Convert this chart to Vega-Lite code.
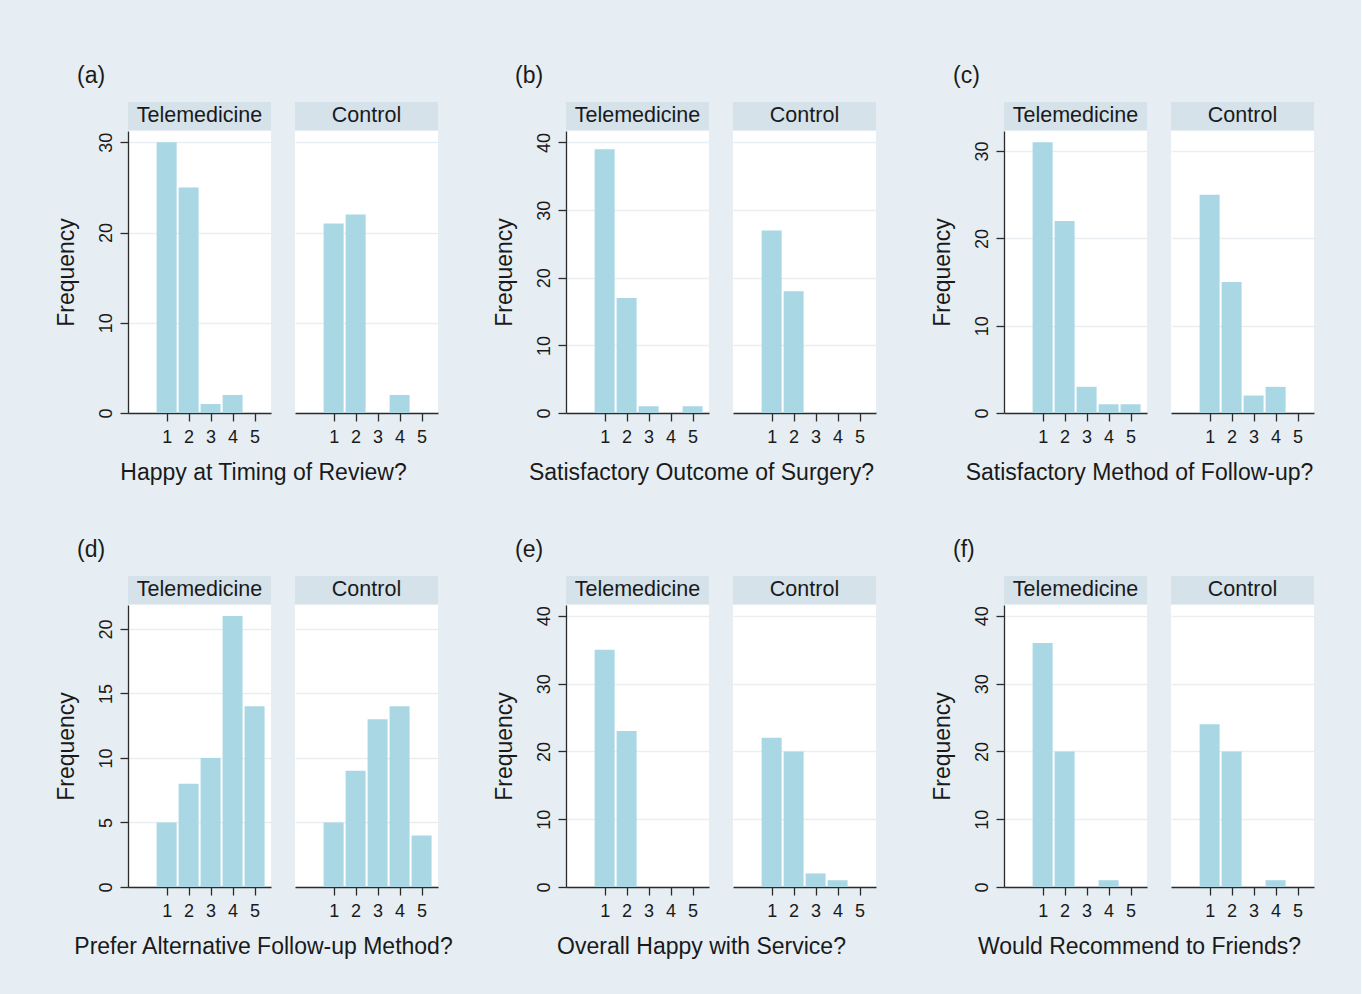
{
  "$schema": "https://vega.github.io/schema/vega-lite/v6.json",
  "padding": {"left": 55, "top": 65, "right": 47, "bottom": 36},
  "datasets": {
    "counts": [
      {"panel": "a", "group": "Telemedicine", "rating": 1, "frequency": 30},
      {"panel": "a", "group": "Telemedicine", "rating": 2, "frequency": 25},
      {"panel": "a", "group": "Telemedicine", "rating": 3, "frequency": 1},
      {"panel": "a", "group": "Telemedicine", "rating": 4, "frequency": 2},
      {"panel": "a", "group": "Telemedicine", "rating": 5, "frequency": 0},
      {"panel": "a", "group": "Control", "rating": 1, "frequency": 21},
      {"panel": "a", "group": "Control", "rating": 2, "frequency": 22},
      {"panel": "a", "group": "Control", "rating": 3, "frequency": 0},
      {"panel": "a", "group": "Control", "rating": 4, "frequency": 2},
      {"panel": "a", "group": "Control", "rating": 5, "frequency": 0},
      {"panel": "b", "group": "Telemedicine", "rating": 1, "frequency": 39},
      {"panel": "b", "group": "Telemedicine", "rating": 2, "frequency": 17},
      {"panel": "b", "group": "Telemedicine", "rating": 3, "frequency": 1},
      {"panel": "b", "group": "Telemedicine", "rating": 4, "frequency": 0},
      {"panel": "b", "group": "Telemedicine", "rating": 5, "frequency": 1},
      {"panel": "b", "group": "Control", "rating": 1, "frequency": 27},
      {"panel": "b", "group": "Control", "rating": 2, "frequency": 18},
      {"panel": "b", "group": "Control", "rating": 3, "frequency": 0},
      {"panel": "b", "group": "Control", "rating": 4, "frequency": 0},
      {"panel": "b", "group": "Control", "rating": 5, "frequency": 0},
      {"panel": "c", "group": "Telemedicine", "rating": 1, "frequency": 31},
      {"panel": "c", "group": "Telemedicine", "rating": 2, "frequency": 22},
      {"panel": "c", "group": "Telemedicine", "rating": 3, "frequency": 3},
      {"panel": "c", "group": "Telemedicine", "rating": 4, "frequency": 1},
      {"panel": "c", "group": "Telemedicine", "rating": 5, "frequency": 1},
      {"panel": "c", "group": "Control", "rating": 1, "frequency": 25},
      {"panel": "c", "group": "Control", "rating": 2, "frequency": 15},
      {"panel": "c", "group": "Control", "rating": 3, "frequency": 2},
      {"panel": "c", "group": "Control", "rating": 4, "frequency": 3},
      {"panel": "c", "group": "Control", "rating": 5, "frequency": 0},
      {"panel": "d", "group": "Telemedicine", "rating": 1, "frequency": 5},
      {"panel": "d", "group": "Telemedicine", "rating": 2, "frequency": 8},
      {"panel": "d", "group": "Telemedicine", "rating": 3, "frequency": 10},
      {"panel": "d", "group": "Telemedicine", "rating": 4, "frequency": 21},
      {"panel": "d", "group": "Telemedicine", "rating": 5, "frequency": 14},
      {"panel": "d", "group": "Control", "rating": 1, "frequency": 5},
      {"panel": "d", "group": "Control", "rating": 2, "frequency": 9},
      {"panel": "d", "group": "Control", "rating": 3, "frequency": 13},
      {"panel": "d", "group": "Control", "rating": 4, "frequency": 14},
      {"panel": "d", "group": "Control", "rating": 5, "frequency": 4},
      {"panel": "e", "group": "Telemedicine", "rating": 1, "frequency": 35},
      {"panel": "e", "group": "Telemedicine", "rating": 2, "frequency": 23},
      {"panel": "e", "group": "Telemedicine", "rating": 3, "frequency": 0},
      {"panel": "e", "group": "Telemedicine", "rating": 4, "frequency": 0},
      {"panel": "e", "group": "Telemedicine", "rating": 5, "frequency": 0},
      {"panel": "e", "group": "Control", "rating": 1, "frequency": 22},
      {"panel": "e", "group": "Control", "rating": 2, "frequency": 20},
      {"panel": "e", "group": "Control", "rating": 3, "frequency": 2},
      {"panel": "e", "group": "Control", "rating": 4, "frequency": 1},
      {"panel": "e", "group": "Control", "rating": 5, "frequency": 0},
      {"panel": "f", "group": "Telemedicine", "rating": 1, "frequency": 36},
      {"panel": "f", "group": "Telemedicine", "rating": 2, "frequency": 20},
      {"panel": "f", "group": "Telemedicine", "rating": 3, "frequency": 0},
      {"panel": "f", "group": "Telemedicine", "rating": 4, "frequency": 1},
      {"panel": "f", "group": "Telemedicine", "rating": 5, "frequency": 0},
      {"panel": "f", "group": "Control", "rating": 1, "frequency": 24},
      {"panel": "f", "group": "Control", "rating": 2, "frequency": 20},
      {"panel": "f", "group": "Control", "rating": 3, "frequency": 0},
      {"panel": "f", "group": "Control", "rating": 4, "frequency": 1},
      {"panel": "f", "group": "Control", "rating": 5, "frequency": 0}
    ]
  },
  "columns": 3,
  "align": "all",
  "spacing": {"column": 39, "row": 54},
  "concat": [
    {
      "title": {"text": "(a)", "anchor": "start", "dx": 22, "offset": 14},
      "vconcat": [{
        "title": {"text": "Happy at Timing of Review?", "orient": "bottom", "anchor": "middle", "dx": 17, "offset": 16},
        "spacing": 24,
        "hconcat": [
          {"spacing": 1, "vconcat": [
            {"width": 143, "height": 28, "view": {"fill": "#d6e2ea", "stroke": null}, "data": {"values": [{"label": "Telemedicine"}]}, "mark": {"type": "text", "fontSize": 21.5, "color": "#1a1a1a"}, "encoding": {"text": {"field": "label", "type": "nominal"}}},
            {"width": 143, "height": 282, "view": {"fill": "white", "stroke": null}, "data": {"name": "counts"},
             "transform": [{"filter": "datum.panel === 'a' && datum.group === 'Telemedicine'"}],
             "mark": {"type": "bar", "size": 20, "color": "#a9d7e4"},
             "encoding": {
               "x": {"field": "rating", "type": "quantitative", "scale": {"domain": [-0.53, 5.52], "nice": false, "zero": false}, "axis": {"values": [1, 2, 3, 4, 5], "title": null, "grid": false, "tickSize": 8, "labelPadding": 7, "labelFlush": false, "labelOverlap": false, "format": "d"}},
               "y": {"field": "frequency", "type": "quantitative", "scale": {"domain": [0, 31.25], "nice": false}, "axis": {"values": [0, 10, 20, 30], "title": "Frequency", "tickSize": 8, "labelAngle": -90, "labelAlign": "center", "labelBaseline": "bottom", "labelPadding": 5, "minExtent": 31, "maxExtent": 31, "titlePadding": 19, "format": "d", "labelOverlap": false}}
             }}
          ]},
          {"spacing": 1, "vconcat": [
            {"width": 143, "height": 28, "view": {"fill": "#d6e2ea", "stroke": null}, "data": {"values": [{"label": "Control"}]}, "mark": {"type": "text", "fontSize": 21.5, "color": "#1a1a1a"}, "encoding": {"text": {"field": "label", "type": "nominal"}}},
            {"width": 143, "height": 282, "view": {"fill": "white", "stroke": null}, "data": {"name": "counts"},
             "transform": [{"filter": "datum.panel === 'a' && datum.group === 'Control'"}],
             "mark": {"type": "bar", "size": 20, "color": "#a9d7e4"},
             "encoding": {
               "x": {"field": "rating", "type": "quantitative", "scale": {"domain": [-0.53, 5.52], "nice": false, "zero": false}, "axis": {"values": [1, 2, 3, 4, 5], "title": null, "grid": false, "tickSize": 8, "labelPadding": 7, "labelFlush": false, "labelOverlap": false, "format": "d"}},
               "y": {"field": "frequency", "type": "quantitative", "scale": {"domain": [0, 31.25], "nice": false}, "axis": {"values": [0, 10, 20, 30], "title": null, "labels": false, "ticks": false, "domain": false}}
             }}
          ]}
        ]
      }]
    },
    {
      "title": {"text": "(b)", "anchor": "start", "dx": 22, "offset": 14},
      "vconcat": [{
        "title": {"text": "Satisfactory Outcome of Surgery?", "orient": "bottom", "anchor": "middle", "dx": 17, "offset": 16},
        "spacing": 24,
        "hconcat": [
          {"spacing": 1, "vconcat": [
            {"width": 143, "height": 28, "view": {"fill": "#d6e2ea", "stroke": null}, "data": {"values": [{"label": "Telemedicine"}]}, "mark": {"type": "text", "fontSize": 21.5, "color": "#1a1a1a"}, "encoding": {"text": {"field": "label", "type": "nominal"}}},
            {"width": 143, "height": 282, "view": {"fill": "white", "stroke": null}, "data": {"name": "counts"},
             "transform": [{"filter": "datum.panel === 'b' && datum.group === 'Telemedicine'"}],
             "mark": {"type": "bar", "size": 20, "color": "#a9d7e4"},
             "encoding": {
               "x": {"field": "rating", "type": "quantitative", "scale": {"domain": [-0.53, 5.52], "nice": false, "zero": false}, "axis": {"values": [1, 2, 3, 4, 5], "title": null, "grid": false, "tickSize": 8, "labelPadding": 7, "labelFlush": false, "labelOverlap": false, "format": "d"}},
               "y": {"field": "frequency", "type": "quantitative", "scale": {"domain": [0, 41.7], "nice": false}, "axis": {"values": [0, 10, 20, 30, 40], "title": "Frequency", "tickSize": 8, "labelAngle": -90, "labelAlign": "center", "labelBaseline": "bottom", "labelPadding": 5, "minExtent": 31, "maxExtent": 31, "titlePadding": 19, "format": "d", "labelOverlap": false}}
             }}
          ]},
          {"spacing": 1, "vconcat": [
            {"width": 143, "height": 28, "view": {"fill": "#d6e2ea", "stroke": null}, "data": {"values": [{"label": "Control"}]}, "mark": {"type": "text", "fontSize": 21.5, "color": "#1a1a1a"}, "encoding": {"text": {"field": "label", "type": "nominal"}}},
            {"width": 143, "height": 282, "view": {"fill": "white", "stroke": null}, "data": {"name": "counts"},
             "transform": [{"filter": "datum.panel === 'b' && datum.group === 'Control'"}],
             "mark": {"type": "bar", "size": 20, "color": "#a9d7e4"},
             "encoding": {
               "x": {"field": "rating", "type": "quantitative", "scale": {"domain": [-0.53, 5.52], "nice": false, "zero": false}, "axis": {"values": [1, 2, 3, 4, 5], "title": null, "grid": false, "tickSize": 8, "labelPadding": 7, "labelFlush": false, "labelOverlap": false, "format": "d"}},
               "y": {"field": "frequency", "type": "quantitative", "scale": {"domain": [0, 41.7], "nice": false}, "axis": {"values": [0, 10, 20, 30, 40], "title": null, "labels": false, "ticks": false, "domain": false}}
             }}
          ]}
        ]
      }]
    },
    {
      "title": {"text": "(c)", "anchor": "start", "dx": 22, "offset": 14},
      "vconcat": [{
        "title": {"text": "Satisfactory Method of Follow-up?", "orient": "bottom", "anchor": "middle", "dx": 17, "offset": 16},
        "spacing": 24,
        "hconcat": [
          {"spacing": 1, "vconcat": [
            {"width": 143, "height": 28, "view": {"fill": "#d6e2ea", "stroke": null}, "data": {"values": [{"label": "Telemedicine"}]}, "mark": {"type": "text", "fontSize": 21.5, "color": "#1a1a1a"}, "encoding": {"text": {"field": "label", "type": "nominal"}}},
            {"width": 143, "height": 282, "view": {"fill": "white", "stroke": null}, "data": {"name": "counts"},
             "transform": [{"filter": "datum.panel === 'c' && datum.group === 'Telemedicine'"}],
             "mark": {"type": "bar", "size": 20, "color": "#a9d7e4"},
             "encoding": {
               "x": {"field": "rating", "type": "quantitative", "scale": {"domain": [-0.53, 5.52], "nice": false, "zero": false}, "axis": {"values": [1, 2, 3, 4, 5], "title": null, "grid": false, "tickSize": 8, "labelPadding": 7, "labelFlush": false, "labelOverlap": false, "format": "d"}},
               "y": {"field": "frequency", "type": "quantitative", "scale": {"domain": [0, 32.3], "nice": false}, "axis": {"values": [0, 10, 20, 30], "title": "Frequency", "tickSize": 8, "labelAngle": -90, "labelAlign": "center", "labelBaseline": "bottom", "labelPadding": 5, "minExtent": 31, "maxExtent": 31, "titlePadding": 19, "format": "d", "labelOverlap": false}}
             }}
          ]},
          {"spacing": 1, "vconcat": [
            {"width": 143, "height": 28, "view": {"fill": "#d6e2ea", "stroke": null}, "data": {"values": [{"label": "Control"}]}, "mark": {"type": "text", "fontSize": 21.5, "color": "#1a1a1a"}, "encoding": {"text": {"field": "label", "type": "nominal"}}},
            {"width": 143, "height": 282, "view": {"fill": "white", "stroke": null}, "data": {"name": "counts"},
             "transform": [{"filter": "datum.panel === 'c' && datum.group === 'Control'"}],
             "mark": {"type": "bar", "size": 20, "color": "#a9d7e4"},
             "encoding": {
               "x": {"field": "rating", "type": "quantitative", "scale": {"domain": [-0.53, 5.52], "nice": false, "zero": false}, "axis": {"values": [1, 2, 3, 4, 5], "title": null, "grid": false, "tickSize": 8, "labelPadding": 7, "labelFlush": false, "labelOverlap": false, "format": "d"}},
               "y": {"field": "frequency", "type": "quantitative", "scale": {"domain": [0, 32.3], "nice": false}, "axis": {"values": [0, 10, 20, 30], "title": null, "labels": false, "ticks": false, "domain": false}}
             }}
          ]}
        ]
      }]
    },
    {
      "title": {"text": "(d)", "anchor": "start", "dx": 22, "offset": 14},
      "vconcat": [{
        "title": {"text": "Prefer Alternative Follow-up Method?", "orient": "bottom", "anchor": "middle", "dx": 17, "offset": 16},
        "spacing": 24,
        "hconcat": [
          {"spacing": 1, "vconcat": [
            {"width": 143, "height": 28, "view": {"fill": "#d6e2ea", "stroke": null}, "data": {"values": [{"label": "Telemedicine"}]}, "mark": {"type": "text", "fontSize": 21.5, "color": "#1a1a1a"}, "encoding": {"text": {"field": "label", "type": "nominal"}}},
            {"width": 143, "height": 282, "view": {"fill": "white", "stroke": null}, "data": {"name": "counts"},
             "transform": [{"filter": "datum.panel === 'd' && datum.group === 'Telemedicine'"}],
             "mark": {"type": "bar", "size": 20, "color": "#a9d7e4"},
             "encoding": {
               "x": {"field": "rating", "type": "quantitative", "scale": {"domain": [-0.53, 5.52], "nice": false, "zero": false}, "axis": {"values": [1, 2, 3, 4, 5], "title": null, "grid": false, "tickSize": 8, "labelPadding": 7, "labelFlush": false, "labelOverlap": false, "format": "d"}},
               "y": {"field": "frequency", "type": "quantitative", "scale": {"domain": [0, 21.85], "nice": false}, "axis": {"values": [0, 5, 10, 15, 20], "title": "Frequency", "tickSize": 8, "labelAngle": -90, "labelAlign": "center", "labelBaseline": "bottom", "labelPadding": 5, "minExtent": 31, "maxExtent": 31, "titlePadding": 19, "format": "d", "labelOverlap": false}}
             }}
          ]},
          {"spacing": 1, "vconcat": [
            {"width": 143, "height": 28, "view": {"fill": "#d6e2ea", "stroke": null}, "data": {"values": [{"label": "Control"}]}, "mark": {"type": "text", "fontSize": 21.5, "color": "#1a1a1a"}, "encoding": {"text": {"field": "label", "type": "nominal"}}},
            {"width": 143, "height": 282, "view": {"fill": "white", "stroke": null}, "data": {"name": "counts"},
             "transform": [{"filter": "datum.panel === 'd' && datum.group === 'Control'"}],
             "mark": {"type": "bar", "size": 20, "color": "#a9d7e4"},
             "encoding": {
               "x": {"field": "rating", "type": "quantitative", "scale": {"domain": [-0.53, 5.52], "nice": false, "zero": false}, "axis": {"values": [1, 2, 3, 4, 5], "title": null, "grid": false, "tickSize": 8, "labelPadding": 7, "labelFlush": false, "labelOverlap": false, "format": "d"}},
               "y": {"field": "frequency", "type": "quantitative", "scale": {"domain": [0, 21.85], "nice": false}, "axis": {"values": [0, 5, 10, 15, 20], "title": null, "labels": false, "ticks": false, "domain": false}}
             }}
          ]}
        ]
      }]
    },
    {
      "title": {"text": "(e)", "anchor": "start", "dx": 22, "offset": 14},
      "vconcat": [{
        "title": {"text": "Overall Happy with Service?", "orient": "bottom", "anchor": "middle", "dx": 17, "offset": 16},
        "spacing": 24,
        "hconcat": [
          {"spacing": 1, "vconcat": [
            {"width": 143, "height": 28, "view": {"fill": "#d6e2ea", "stroke": null}, "data": {"values": [{"label": "Telemedicine"}]}, "mark": {"type": "text", "fontSize": 21.5, "color": "#1a1a1a"}, "encoding": {"text": {"field": "label", "type": "nominal"}}},
            {"width": 143, "height": 282, "view": {"fill": "white", "stroke": null}, "data": {"name": "counts"},
             "transform": [{"filter": "datum.panel === 'e' && datum.group === 'Telemedicine'"}],
             "mark": {"type": "bar", "size": 20, "color": "#a9d7e4"},
             "encoding": {
               "x": {"field": "rating", "type": "quantitative", "scale": {"domain": [-0.53, 5.52], "nice": false, "zero": false}, "axis": {"values": [1, 2, 3, 4, 5], "title": null, "grid": false, "tickSize": 8, "labelPadding": 7, "labelFlush": false, "labelOverlap": false, "format": "d"}},
               "y": {"field": "frequency", "type": "quantitative", "scale": {"domain": [0, 41.6], "nice": false}, "axis": {"values": [0, 10, 20, 30, 40], "title": "Frequency", "tickSize": 8, "labelAngle": -90, "labelAlign": "center", "labelBaseline": "bottom", "labelPadding": 5, "minExtent": 31, "maxExtent": 31, "titlePadding": 19, "format": "d", "labelOverlap": false}}
             }}
          ]},
          {"spacing": 1, "vconcat": [
            {"width": 143, "height": 28, "view": {"fill": "#d6e2ea", "stroke": null}, "data": {"values": [{"label": "Control"}]}, "mark": {"type": "text", "fontSize": 21.5, "color": "#1a1a1a"}, "encoding": {"text": {"field": "label", "type": "nominal"}}},
            {"width": 143, "height": 282, "view": {"fill": "white", "stroke": null}, "data": {"name": "counts"},
             "transform": [{"filter": "datum.panel === 'e' && datum.group === 'Control'"}],
             "mark": {"type": "bar", "size": 20, "color": "#a9d7e4"},
             "encoding": {
               "x": {"field": "rating", "type": "quantitative", "scale": {"domain": [-0.53, 5.52], "nice": false, "zero": false}, "axis": {"values": [1, 2, 3, 4, 5], "title": null, "grid": false, "tickSize": 8, "labelPadding": 7, "labelFlush": false, "labelOverlap": false, "format": "d"}},
               "y": {"field": "frequency", "type": "quantitative", "scale": {"domain": [0, 41.6], "nice": false}, "axis": {"values": [0, 10, 20, 30, 40], "title": null, "labels": false, "ticks": false, "domain": false}}
             }}
          ]}
        ]
      }]
    },
    {
      "title": {"text": "(f)", "anchor": "start", "dx": 22, "offset": 14},
      "vconcat": [{
        "title": {"text": "Would Recommend to Friends?", "orient": "bottom", "anchor": "middle", "dx": 17, "offset": 16},
        "spacing": 24,
        "hconcat": [
          {"spacing": 1, "vconcat": [
            {"width": 143, "height": 28, "view": {"fill": "#d6e2ea", "stroke": null}, "data": {"values": [{"label": "Telemedicine"}]}, "mark": {"type": "text", "fontSize": 21.5, "color": "#1a1a1a"}, "encoding": {"text": {"field": "label", "type": "nominal"}}},
            {"width": 143, "height": 282, "view": {"fill": "white", "stroke": null}, "data": {"name": "counts"},
             "transform": [{"filter": "datum.panel === 'f' && datum.group === 'Telemedicine'"}],
             "mark": {"type": "bar", "size": 20, "color": "#a9d7e4"},
             "encoding": {
               "x": {"field": "rating", "type": "quantitative", "scale": {"domain": [-0.53, 5.52], "nice": false, "zero": false}, "axis": {"values": [1, 2, 3, 4, 5], "title": null, "grid": false, "tickSize": 8, "labelPadding": 7, "labelFlush": false, "labelOverlap": false, "format": "d"}},
               "y": {"field": "frequency", "type": "quantitative", "scale": {"domain": [0, 41.6], "nice": false}, "axis": {"values": [0, 10, 20, 30, 40], "title": "Frequency", "tickSize": 8, "labelAngle": -90, "labelAlign": "center", "labelBaseline": "bottom", "labelPadding": 5, "minExtent": 31, "maxExtent": 31, "titlePadding": 19, "format": "d", "labelOverlap": false}}
             }}
          ]},
          {"spacing": 1, "vconcat": [
            {"width": 143, "height": 28, "view": {"fill": "#d6e2ea", "stroke": null}, "data": {"values": [{"label": "Control"}]}, "mark": {"type": "text", "fontSize": 21.5, "color": "#1a1a1a"}, "encoding": {"text": {"field": "label", "type": "nominal"}}},
            {"width": 143, "height": 282, "view": {"fill": "white", "stroke": null}, "data": {"name": "counts"},
             "transform": [{"filter": "datum.panel === 'f' && datum.group === 'Control'"}],
             "mark": {"type": "bar", "size": 20, "color": "#a9d7e4"},
             "encoding": {
               "x": {"field": "rating", "type": "quantitative", "scale": {"domain": [-0.53, 5.52], "nice": false, "zero": false}, "axis": {"values": [1, 2, 3, 4, 5], "title": null, "grid": false, "tickSize": 8, "labelPadding": 7, "labelFlush": false, "labelOverlap": false, "format": "d"}},
               "y": {"field": "frequency", "type": "quantitative", "scale": {"domain": [0, 41.6], "nice": false}, "axis": {"values": [0, 10, 20, 30, 40], "title": null, "labels": false, "ticks": false, "domain": false}}
             }}
          ]}
        ]
      }]
    }
  ],
  "config": {
    "background": "#e6eef3",
    "font": "Liberation Sans",
    "view": {"stroke": null},
    "axis": {
      "domainColor": "#2b2b2b", "tickColor": "#2b2b2b", "domainWidth": 1.3, "tickWidth": 1.3,
      "labelColor": "#1a1a1a", "titleColor": "#1a1a1a",
      "labelFont": "Liberation Sans", "titleFont": "Liberation Sans", "titleFontWeight": "normal",
      "labelFontSize": 18, "titleFontSize": 23,
      "gridColor": "#e8eef2", "gridWidth": 1.3
    },
    "title": {"font": "Liberation Sans", "fontWeight": "normal", "fontSize": 23, "color": "#1a1a1a"}
  }
}
